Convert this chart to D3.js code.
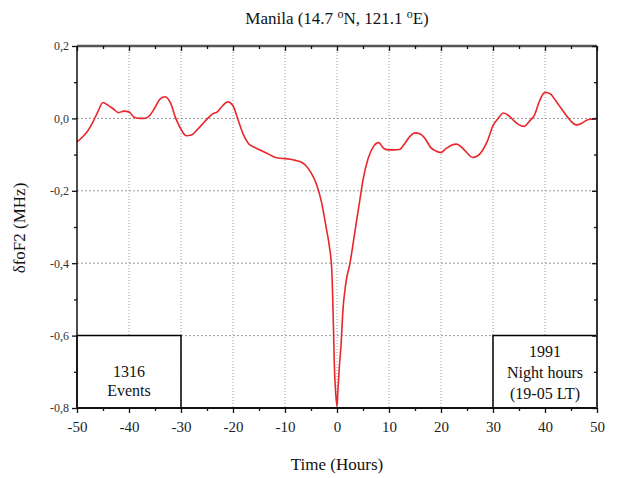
<!DOCTYPE html>
<html><head><meta charset="utf-8">
<script src="https://cdn.jsdelivr.net/npm/d3@7/dist/d3.min.js"></script>
<style>body{margin:0;background:#fff}svg{display:block}</style>
</head><body><div id="chart"></div>
<script>
const hours = [-50,-49,-48,-47,-46,-45,-44,-43,-42,-41,-40,-39,-38,-37,-36,-35,-34,-33,-32,-31,-30,-29,-28,-27,-26,-25,-24,-23,-22,-21,-20,-19,-18,-17,-16,-15,-14,-13,-12,-11,-10,-9,-8,-7,-6,-5,-4,-3,-2,-1.5,-1,-0.7,-0.5,-0.25,0,0.15,0.45,0.8,1.1,1.7,2.5,3.5,4.4,5,6,7,8,9,10,11,12,13,14,15,16,17,18,19,20,21,22,23,24,25,26,27,28,29,30,31,32,33,34,35,36,37,38,39,40,41,42,43,44,45,46,47,48,49,50];
const dfoF2 = [-0.065,-0.052,-0.036,-0.012,0.018,0.044,0.036,0.026,0.016,0.020,0.018,0.003,0.000,0.000,0.008,0.030,0.054,0.060,0.042,0.000,-0.030,-0.048,-0.046,-0.033,-0.018,-0.002,0.012,0.018,0.035,0.046,0.035,-0.005,-0.045,-0.070,-0.079,-0.086,-0.093,-0.100,-0.107,-0.110,-0.111,-0.113,-0.116,-0.120,-0.130,-0.150,-0.180,-0.230,-0.308,-0.350,-0.420,-0.566,-0.686,-0.759,-0.796,-0.758,-0.686,-0.621,-0.538,-0.455,-0.400,-0.308,-0.225,-0.170,-0.110,-0.078,-0.067,-0.083,-0.087,-0.087,-0.086,-0.070,-0.050,-0.040,-0.043,-0.057,-0.080,-0.090,-0.094,-0.083,-0.074,-0.071,-0.080,-0.095,-0.108,-0.104,-0.088,-0.060,-0.020,0.000,0.015,0.008,-0.006,-0.018,-0.022,-0.008,0.010,0.050,0.072,0.068,0.050,0.030,0.010,-0.008,-0.018,-0.014,-0.005,-0.002,0.000];
const xTicks = [-50,-40,-30,-20,-10,0,10,20,30,40,50];
const yTicks = [0.2,0.0,-0.2,-0.4,-0.6,-0.8];
const leftBoxLines = ["1316","Events"];
const rightBoxLines = ["1991","Night hours","(19-05 LT)"];

const W=618,H=478, L=77,R=597,T=46,B=408;
const svg=d3.select("#chart").append("svg").attr("width",W).attr("height",H);
const x=d3.scaleLinear().domain([-50,50]).range([L,R]);
const y=d3.scaleLinear().domain([-0.8,0.2]).range([B,T]);
const font="'Liberation Serif','Times New Roman',serif";

// grid
const g=svg.append("g");
g.selectAll(".vg").data(xTicks.filter(d=>d>-50&&d<50)).join("line")
 .attr("x1",d=>x(d)).attr("x2",d=>x(d)).attr("y1",T).attr("y2",B)
 .attr("stroke","#999").attr("stroke-width",1).attr("stroke-dasharray","1,2");
g.selectAll(".hg").data([0,-0.2,-0.4,-0.6]).join("line")
 .attr("x1",L).attr("x2",R).attr("y1",d=>y(d)).attr("y2",d=>y(d))
 .attr("stroke","#999").attr("stroke-width",1).attr("stroke-dasharray","2,2");

// boxes
function box(x0,x1,lines,ys){
  svg.append("path").attr("d",`M${x(x0)},${y(-0.8)}V${y(-0.6)}H${x(x1)}V${y(-0.8)}`)
   .attr("fill","#fff").attr("stroke","#000").attr("stroke-width",1.5);
  const cx=(x(x0)+x(x1))/2;
  lines.forEach((t,i)=>svg.append("text").attr("x",cx).attr("y",ys[i]).attr("text-anchor","middle")
   .attr("font-family",font).attr("font-size",16).attr("fill","#111").text(t));
}
box(-50,-30,leftBoxLines,[377,396]);
box(30,50,rightBoxLines,[357,378,399]);

// line
const line=d3.line().x((d,i)=>x(hours[i])).y(d=>y(d)).curve(d3.curveMonotoneX);
svg.append("path").datum(dfoF2).attr("d",line).attr("fill","none")
 .attr("stroke","#e8262c").attr("stroke-width",1.6);

// frame
svg.append("line").attr("x1",L).attr("x2",R).attr("y1",T).attr("y2",T).attr("stroke","#555").attr("stroke-width",2.5);
svg.append("line").attr("x1",L).attr("x2",R).attr("y1",B).attr("y2",B).attr("stroke","#111").attr("stroke-width",2);
svg.append("line").attr("x1",L).attr("x2",L).attr("y1",T).attr("y2",B).attr("stroke","#111").attr("stroke-width",1.5);
svg.append("line").attr("x1",R).attr("x2",R).attr("y1",T).attr("y2",B).attr("stroke","#333").attr("stroke-width",2);

// axes
const xb=d3.axisBottom(x).tickValues(xTicks).tickSize(5).tickPadding(8).tickFormat(d=>String(d));
const gx=svg.append("g").attr("transform",`translate(0,${B})`).call(xb);
gx.select(".domain").remove();
gx.selectAll("text").attr("font-family",font).attr("font-size",15).attr("fill","#222");
const xm=d3.axisBottom(x).tickValues(d3.range(-45,50,10)).tickSize(3).tickFormat("");
svg.append("g").attr("transform",`translate(0,${B})`).call(xm).select(".domain").remove();
const xt=d3.axisBottom(x).tickValues(xTicks).tickSize(5).tickFormat("");
svg.append("g").attr("transform",`translate(0,${T})`).call(xt).select(".domain").remove();
const xtm=d3.axisBottom(x).tickValues(d3.range(-45,50,10)).tickSize(3).tickFormat("");
svg.append("g").attr("transform",`translate(0,${T})`).call(xtm).select(".domain").remove();

const fmt=d=>(d<0?"-":"")+Math.abs(d).toFixed(1).replace(".",",");
const yl=d3.axisLeft(y).tickValues(yTicks).tickSize(5).tickPadding(3).tickFormat(fmt);
const gy=svg.append("g").attr("transform",`translate(${L},0)`).call(yl);
gy.select(".domain").remove();
gy.selectAll("text").attr("font-family",font).attr("font-size",12).attr("fill","#333");
svg.append("g").attr("transform",`translate(${L},0)`).call(d3.axisLeft(y).tickValues([0.1,-0.1,-0.3,-0.5,-0.7]).tickSize(3).tickFormat("")).select(".domain").remove();
svg.append("g").attr("transform",`translate(${R},0)`).call(d3.axisLeft(y).tickValues(yTicks).tickSize(5).tickFormat("")).select(".domain").remove();
svg.append("g").attr("transform",`translate(${R},0)`).call(d3.axisLeft(y).tickValues([0.1,-0.1,-0.3,-0.5,-0.7]).tickSize(3).tickFormat("")).select(".domain").remove();
svg.selectAll(".tick line").attr("stroke","#111").attr("stroke-width",1.3);

// titles
const title=svg.append("text").attr("x",337).attr("y",24).attr("text-anchor","middle")
 .attr("font-family",font).attr("font-size",17).attr("fill","#111");
title.append("tspan").text("Manila (14.7 ");
title.append("tspan").attr("dy",-6).attr("font-size",12).text("o");
title.append("tspan").attr("dy",6).text("N, 121.1 ");
title.append("tspan").attr("dy",-6).attr("font-size",12).text("o");
title.append("tspan").attr("dy",6).text("E)");

svg.append("text").attr("x",337).attr("y",470).attr("text-anchor","middle")
 .attr("font-family",font).attr("font-size",17).attr("fill","#111").text("Time (Hours)");
svg.append("text").attr("transform","translate(25,228) rotate(-90)").attr("text-anchor","middle")
 .attr("font-family",font).attr("font-size",17).attr("fill","#111").text("δfoF2 (MHz)");
</script></body></html>
